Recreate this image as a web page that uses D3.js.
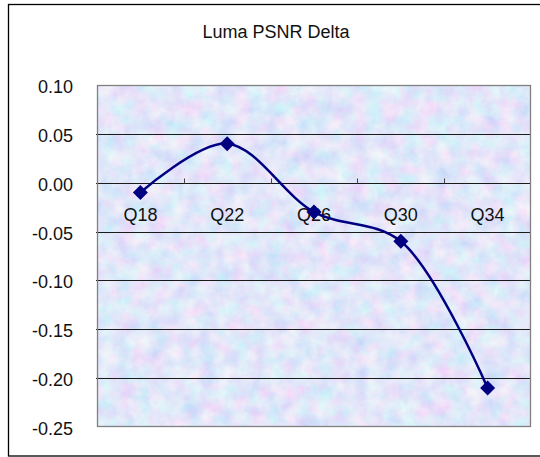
<!DOCTYPE html>
<html><head><meta charset="utf-8">
<script src="https://cdn.jsdelivr.net/npm/d3@7"></script>
<style>html,body{margin:0;padding:0;background:#fff;overflow:hidden}</style>
</head><body>
<script>
const categories = ["Q18","Q22","Q26","Q30","Q34"];
const values = [-0.01, 0.04, -0.03, -0.06, -0.21];
const yTicks = [0.10, 0.05, 0.00, -0.05, -0.10, -0.15, -0.20, -0.25];
const title = "Luma PSNR Delta";

const W = 540, H = 457;
const plot = {left: 97, right: 531, top: 85, bottom: 427};
const font = "'Liberation Sans', Arial, sans-serif";
const fs = 18;

const svg = d3.select("body").append("svg").attr("width", W).attr("height", H);
const defs = svg.append("defs");
const filt = defs.append("filter").attr("id","tex").attr("x",0).attr("y",0).attr("width","100%").attr("height","100%");
filt.append("feTurbulence").attr("type","fractalNoise").attr("baseFrequency","0.06").attr("numOctaves",5).attr("seed",5).attr("result","n");
filt.append("feColorMatrix").attr("in","n").attr("type","matrix")
  .attr("values","0.6 0 0 0 0.50  0 0.45 0 0 0.60  0 0 0 0 0.96  0 0 0 0 1");

// outer frame
svg.append("rect").attr("x",8.5).attr("y",4.5).attr("width",W).attr("height",451.5)
  .attr("fill","#fff").attr("stroke","#000").attr("stroke-width",1.3);

const x = d3.scaleBand().domain(categories).range([plot.left, plot.right]);
const y = d3.scaleLinear().domain([-0.25, 0.10]).range([plot.bottom, plot.top]);

// plot background
svg.append("rect").attr("x",plot.left).attr("y",plot.top)
  .attr("width",plot.right-plot.left).attr("height",plot.bottom-plot.top).attr("fill","#c6d5f4");
svg.append("rect").attr("x",plot.left).attr("y",plot.top)
  .attr("width",plot.right-plot.left).attr("height",plot.bottom-plot.top).attr("filter","url(#tex)").attr("opacity",0.85);

// gridlines
svg.append("g").selectAll("line").data(yTicks.filter(t => t < 0.099 && t > -0.249)).join("line")
  .attr("x1",plot.left-1).attr("x2",plot.right)
  .attr("y1",d=>Math.round(y(d))+0.5).attr("y2",d=>Math.round(y(d))+0.5)
  .attr("stroke","#1a1a1a").attr("stroke-width",1);

// plot border
svg.append("rect").attr("x",plot.left+0.5).attr("y",plot.top+0.5)
  .attr("width",plot.right-plot.left-1).attr("height",plot.bottom-plot.top-1)
  .attr("fill","none").attr("stroke","#808080").attr("stroke-width",1.3);

// y axis labels
const fmt = d => d3.format(".2f")(d).replace("\u2212","-");
const yAxis = d3.axisLeft(y).tickValues(yTicks).tickFormat(fmt).tickSize(0).tickPadding(24);
const ya = svg.append("g").attr("transform",`translate(${plot.left},0)`).call(yAxis);
ya.select(".domain").remove();
ya.selectAll("text").attr("font-family",font).attr("font-size",fs).attr("fill","#111")
  .attr("dy","0.42em");

// x axis at zero with ticks pointing up
const xAxisY = Math.round(y(0))+0.5;
const bounds = d3.range(1, categories.length).map(i => plot.left + i*x.step());
svg.append("g").selectAll("line").data(bounds).join("line")
  .attr("x1",d=>Math.round(d)+0.5).attr("x2",d=>Math.round(d)+0.5)
  .attr("y1",xAxisY-5).attr("y2",xAxisY).attr("stroke","#444").attr("stroke-width",1);
svg.append("g").selectAll("text").data(categories).join("text")
  .attr("x",d=>x(d)+x.bandwidth()/2).attr("y",xAxisY+37)
  .attr("text-anchor","middle").attr("font-family",font).attr("font-size",fs).attr("fill","#111")
  .text(d=>d);

// line
const pts = categories.map((c,i)=>[x(c)+x.bandwidth()/2, y(values[i])]);
svg.append("path").attr("d", d3.line().curve(d3.curveCatmullRom.alpha(0.5))(pts))
  .attr("fill","none").attr("stroke","#000080").attr("stroke-width",2.5);

// markers
svg.append("g").selectAll("path").data(pts).join("path")
  .attr("d",d=>`M${d[0]},${d[1]-7.5}L${d[0]+7.5},${d[1]}L${d[0]},${d[1]+7.5}L${d[0]-7.5},${d[1]}Z`)
  .attr("fill","#000080");

// title
svg.append("text").attr("x",276).attr("y",38).attr("text-anchor","middle")
  .attr("font-family",font).attr("font-size",fs).attr("fill","#111").text(title);
</script>
</body></html>
